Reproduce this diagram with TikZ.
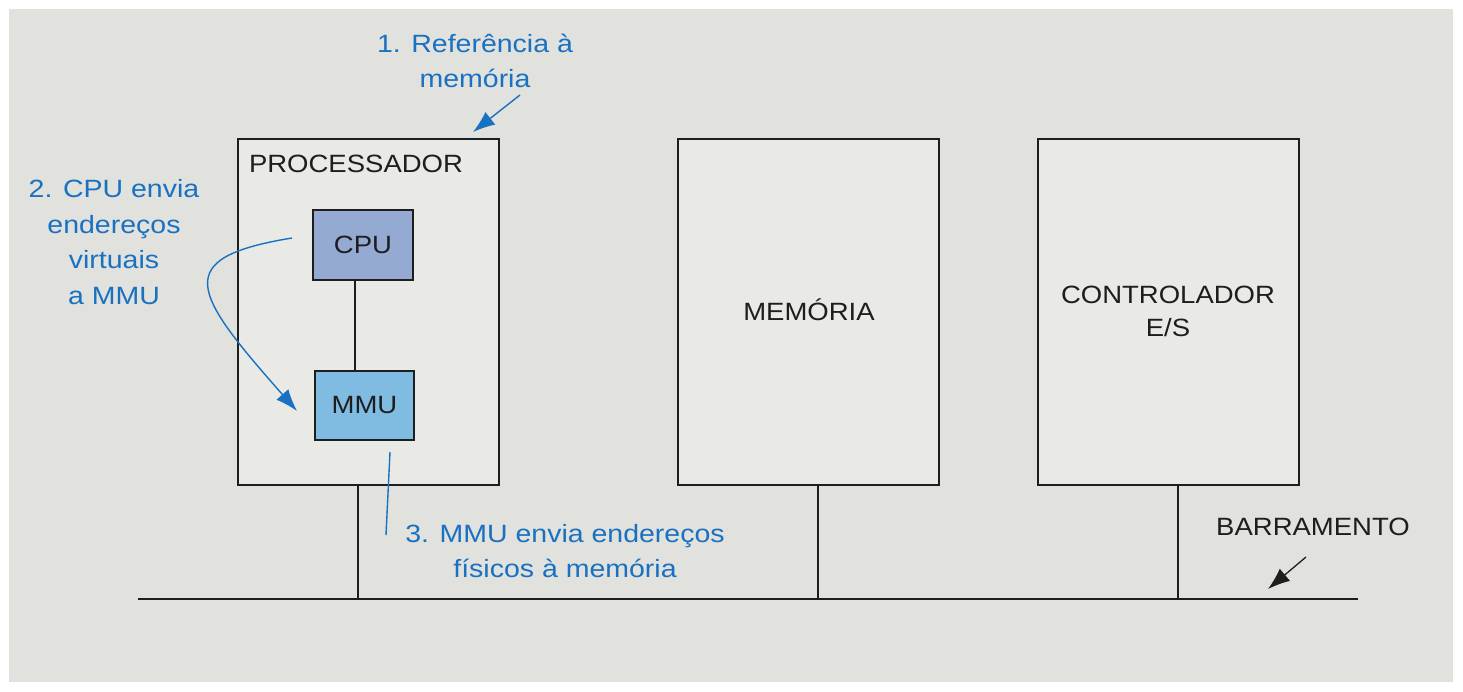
\documentclass[tikz,border=0pt]{standalone}
\usepackage{fontspec}
\newfontfamily\hand[FakeStretch=1.1]{Liberation Sans}
\newfontfamily\handb[FakeStretch=1.14]{Liberation Sans}
\usetikzlibrary{arrows.meta}
\definecolor{bggrey}{HTML}{E1E1DD}
\definecolor{boxfill}{HTML}{E9E9E5}
\definecolor{cpufill}{HTML}{94AAD2}
\definecolor{mmufill}{HTML}{80BCE2}
\definecolor{noteblue}{HTML}{1971C2}
\definecolor{ink}{HTML}{1E1E1E}
\tikzset{
  bigbox/.style={draw=ink, line width=1.3pt, fill=boxfill, minimum width=261pt, minimum height=346pt, inner sep=0pt},
  chip/.style={draw=ink, line width=1.3pt, minimum width=100pt, minimum height=70pt, inner sep=0pt},
  lbl/.style={text=ink, font=\hand\fontsize{25}{33}\selectfont, align=center, inner sep=0pt},
  note/.style={text=noteblue, font=\handb\fontsize{25}{35.5}\selectfont, align=center, inner sep=0pt},
  wire/.style={draw=ink, line width=1.2pt},
  bluearrow/.style={draw=noteblue, line width=1.4pt, -{Latex[length=22pt,width=16pt]}},
  blackarrow/.style={draw=ink, line width=1.3pt, -{Latex[length=22pt,width=16pt]}},
}
\begin{document}
\begin{tikzpicture}[x=1pt,y=-1pt]
\useasboundingbox (0,0) rectangle (1463,692);
\fill[white] (0,0) rectangle (1463,692);
\fill[bggrey] (9,9) rectangle (1453,682);
% bus
\coordinate (busL) at (138,599);
\coordinate (busR) at (1358,599);
\coordinate (b1) at (358,599);
\coordinate (b2) at (818,599);
\coordinate (b3) at (1178,599);
% boxes
\node[bigbox] (proc) at (368.5,312) {};
\node[bigbox] (mem) at (808.5,312) {};
\node[bigbox] (ctrl) at (1168.5,312) {};
\node[lbl] (proclbl) at (356,164) {PROCESSADOR};
\node[lbl] (memlbl) at (809,310) {MEMÓRIA};
\node[lbl] (ctrllbl) at (1168,311) {CONTROLADOR\\E/S};
\node[chip, fill=cpufill] (cpu) at (363,245) {};
\node[chip, fill=mmufill, minimum width=99pt, minimum height=69pt] (mmu) at (364.5,405.5) {};
\node[lbl] at (cpu) {CPU};
\node[lbl] at (mmu) {MMU};
\draw[wire] ([xshift=-8pt]cpu.south) -- ([xshift=-8pt]cpu.south |- mmu.north);
\draw[wire] (busL) -- (busR);
\draw[wire] (b1 |- proc.south) -- (b1);
\draw[wire] (b2 |- mem.south) -- (b2);
\draw[wire] (b3 |- ctrl.south) -- (b3);
% bus label
\node[lbl] (buslbl) at (1313,527) {BARRAMENTO};
\coordinate (busA1) at (1306,557);
\coordinate (busA2) at (1268,589);
\draw[blackarrow] (busA1) -- (busA2);
% notes
\node[note] (n1) at (475,61) {1. Referência à\\memória};
\coordinate (n1a) at (520,95);
\coordinate (n1b) at (473,132);
\draw[bluearrow] (n1a) -- (n1b);
\node[note] (n2) at (114,242) {2. CPU envia\\endereços\\virtuais\\a MMU};
\coordinate (n2a) at (292,238);
\coordinate (n2b) at (297,411);
\draw[bluearrow] (n2a) .. controls (170,258) and (192,292) .. (n2b);
\node[note] (n3) at (565,551) {3. MMU envia endereços\\físicos à memória};
\coordinate (n3a) at (390,452);
\coordinate (n3b) at (386,535);
\draw[draw=noteblue, line width=1.4pt] (n3a) -- (n3b);
\end{tikzpicture}
\end{document}
